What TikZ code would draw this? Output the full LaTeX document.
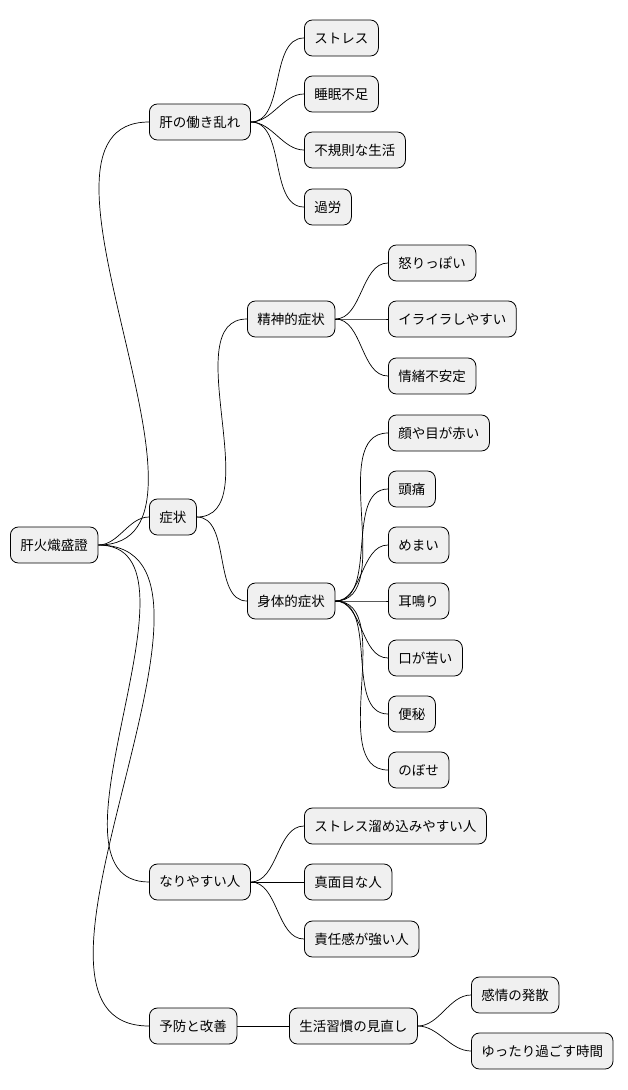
\documentclass[tikz,border=0pt]{standalone}
\usepackage{fontspec}
\setmainfont{Noto Sans CJK JP}
\usetikzlibrary{positioning}
\tikzset{
  topic/.style={draw, fill=black!6, rounded corners=8pt, line width=0.8pt,
    minimum height=36pt, inner xsep=10pt, anchor=west,
    font=\fontsize{13.5}{16}\selectfont},
  link/.style={line width=0.7pt, out=0, in=180, looseness=0.9}
}
\begin{document}
\begin{tikzpicture}[x=1pt,y=-1pt]
  \useasboundingbox (0,0) rectangle (628,1090);

  % Wurzel
  \node[topic] (root) at (10,545) {肝火熾盛證};

  % Erste Ebene
  \node[topic] (cause) at (149,122) {肝の働き乱れ};
  \node[topic] (symp) at (149,517) {症状};
  \node[topic] (who) at (149,882) {なりやすい人};
  \node[topic] (care) at (149,1026) {予防と改善};
  \foreach \n in {cause,symp,who,care}
    \draw[link] (root.east) to (\n.west);

  % Ursachen
  \foreach \t/\y [count=\i] in {ストレス/38, 睡眠不足/94, 不規則な生活/150, 過労/207} {
    \node[topic] (cause\i) at (304,\y) {\t};
    \draw[link] (cause.east) to (cause\i.west);
  }

  % Symptome
  \node[topic] (mind) at (247,319) {精神的症状};
  \node[topic] (body) at (247,601) {身体的症状};
  \draw[link] (symp.east) to (mind.west);
  \draw[link] (symp.east) to (body.west);
  \foreach \t/\y [count=\i] in {怒りっぽい/263, イライラしやすい/319, 情緒不安定/376} {
    \node[topic] (mind\i) at (388,\y) {\t};
    \draw[link] (mind.east) to (mind\i.west);
  }
  \foreach \t/\y [count=\i] in {顔や目が赤い/433, 頭痛/489, めまい/545, 耳鳴り/601,
      口が苦い/658, 便秘/714, のぼせ/770} {
    \node[topic] (body\i) at (388,\y) {\t};
    \draw[link] (body.east) to (body\i.west);
  }

  % Typen
  \foreach \t/\y [count=\i] in {ストレス溜め込みやすい人/826, 真面目な人/882, 責任感が強い人/939} {
    \node[topic] (who\i) at (304,\y) {\t};
    \draw[link] (who.east) to (who\i.west);
  }

  % Vorbeugung
  \node[topic] (habit) at (289,1026) {生活習慣の見直し};
  \draw[link] (care.east) to (habit.west);
  \node[topic] (habit1) at (471,995) {感情の発散};
  \node[topic] (habit2) at (471,1051) {ゆったり過ごす時間};
  \draw[link] (habit.east) to (habit1.west);
  \draw[link] (habit.east) to (habit2.west);
\end{tikzpicture}
\end{document}
